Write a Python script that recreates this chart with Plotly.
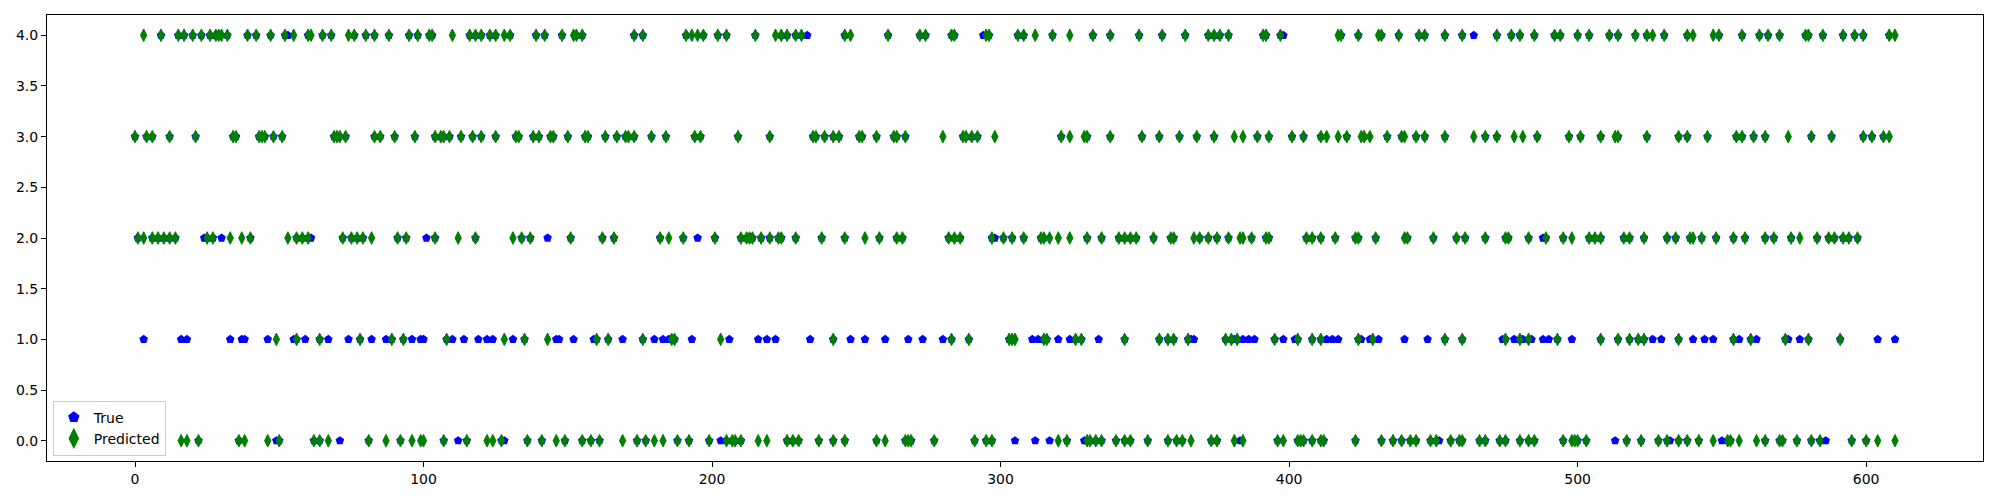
import plotly.graph_objects as go

# Predicted class per sample index (green thin diamonds), grouped by class
pred_idx_0 = [16, 18, 22, 36, 38, 46, 50, 62, 64, 67, 81, 87, 92, 96, 99, 100, 107, 115, 122, 124, 127, 136, 141,
              146, 149, 155, 158, 161, 169, 174, 177, 180, 183, 188, 192, 199, 205, 207, 208, 210, 216, 219, 226,
              228, 230, 237, 242, 246, 257, 260, 267, 268, 269, 277, 291, 295, 297, 320, 323, 330, 331, 333, 335,
              340, 343, 345, 351, 358, 361, 363, 366, 373, 375, 381, 384, 396, 398, 403, 404, 405, 408, 411, 412,
              423, 432, 436, 439, 442, 444, 449, 451, 456, 459, 460, 466, 468, 473, 475, 480, 483, 485, 495, 498,
              499, 500, 503, 517, 522, 528, 531, 535, 538, 542, 547, 552, 553, 556, 562, 565, 570, 571, 576, 581,
              584, 595, 600, 604, 610]
pred_idx_1 = [49, 56, 64, 78, 89, 93, 108, 128, 135, 143, 160, 164, 176, 186, 187, 203, 242, 283, 289, 303, 304,
              305, 315, 316, 326, 328, 343, 355, 358, 360, 365, 378, 380, 382, 395, 403, 408, 411, 424, 429, 454,
              460, 475, 480, 483, 493, 508, 514, 518, 521, 523, 535, 554, 560, 572, 580, 591]
pred_idx_2 = [1, 3, 6, 8, 10, 12, 14, 25, 27, 33, 37, 40, 53, 56, 58, 60, 72, 75, 77, 79, 82, 91, 94, 104, 112,
              118, 131, 134, 137, 151, 162, 166, 182, 185, 190, 201, 210, 212, 213, 214, 217, 220, 223, 224, 229,
              238, 246, 253, 258, 264, 266, 282, 284, 286, 297, 301, 304, 308, 314, 315, 317, 320, 324, 330, 335,
              341, 343, 345, 347, 353, 359, 360, 367, 369, 372, 375, 379, 383, 384, 387, 392, 393, 406, 408, 411,
              416, 423, 424, 430, 440, 441, 450, 458, 461, 468, 475, 476, 483, 489, 495, 498, 504, 506, 508, 516,
              518, 523, 531, 534, 539, 540, 543, 548, 554, 558, 565, 568, 574, 577, 583, 587, 589, 592, 594, 597]
pred_idx_3 = [0, 4, 6, 12, 21, 34, 35, 43, 44, 45, 48, 51, 69, 70, 71, 73, 83, 85, 90, 97, 104, 106, 107, 109,
              113, 117, 120, 125, 132, 133, 138, 140, 144, 145, 150, 156, 157, 163, 167, 170, 171, 173, 179, 184,
              194, 196, 209, 220, 235, 236, 239, 242, 244, 251, 252, 257, 263, 264, 267, 280, 287, 288, 290, 292,
              298, 321, 324, 329, 330, 338, 349, 355, 362, 368, 374, 381, 384, 389, 393, 401, 405, 411, 413, 417,
              420, 425, 426, 428, 434, 439, 440, 444, 447, 454, 464, 468, 472, 478, 481, 486, 497, 501, 508, 513,
              514, 524, 535, 538, 545, 555, 557, 561, 565, 573, 581, 588, 599, 602, 606, 608]
pred_idx_4 = [3, 9, 15, 17, 20, 23, 26, 28, 29, 30, 32, 39, 42, 47, 52, 55, 60, 61, 65, 68, 74, 76, 80, 83, 88,
              95, 98, 102, 103, 110, 116, 118, 120, 123, 125, 128, 130, 139, 142, 148, 152, 153, 155, 173, 176,
              191, 193, 195, 197, 202, 205, 215, 222, 224, 226, 229, 231, 246, 248, 261, 272, 274, 283, 284, 295,
              296, 306, 308, 312, 318, 324, 332, 338, 348, 356, 364, 372, 374, 376, 379, 391, 392, 397, 417, 418,
              424, 431, 432, 438, 445, 447, 454, 460, 472, 477, 480, 485, 492, 494, 500, 504, 511, 514, 520, 524,
              526, 530, 538, 540, 547, 549, 557, 563, 566, 570, 579, 580, 585, 592, 596, 599, 608, 610]

# True class where it differs from the prediction (visible blue pentagons)
true_diff_x = [3, 16, 18, 33, 37, 38, 46, 55, 59, 67, 74, 82, 87, 96, 99, 100, 110, 114, 119, 122, 124, 131,
               146, 147, 152, 159, 169, 180, 183, 185, 193, 206, 216, 219, 222, 234, 248, 253, 260, 268, 273,
               280, 311, 313, 320, 324, 328, 334, 366, 367, 381, 384, 386, 388, 398, 402, 413, 415, 417, 425,
               428, 431, 440, 448, 474, 478, 481, 484, 488, 490, 493, 498, 526, 529, 540, 544, 547, 556, 562,
               573, 577, 604, 610,
               24, 30, 61, 101, 143, 195, 298, 488,
               49, 71, 112, 128, 174, 203, 305, 312, 317, 323, 329, 383, 452, 513, 532, 550, 586,
               53, 233, 294, 398, 464, 608]
true_diff_y = [1] * 83 + [2] * 8 + [0] * 17 + [4] * 6

pred_lists = [pred_idx_0, pred_idx_1, pred_idx_2, pred_idx_3, pred_idx_4]

pred_x, pred_y = [], []
for cls, idxs in enumerate(pred_lists):
    pred_x += idxs
    pred_y += [cls] * len(idxs)

diff_set = set(true_diff_x)
true_x, true_y = list(true_diff_x), list(true_diff_y)
for x, y in zip(pred_x, pred_y):
    if x not in diff_set:
        true_x.append(x)
        true_y.append(y)

fig = go.Figure()
fig.add_trace(go.Scatter(
    x=true_x, y=true_y, mode="markers", name="True",
    marker=dict(symbol="pentagon", color="blue", size=9, line=dict(width=0)),
))
fig.add_trace(go.Scatter(
    x=pred_x, y=pred_y, mode="markers", name="Predicted",
    marker=dict(symbol="diamond-tall", color="green", size=9, line=dict(width=1, color="green")),
))

font = dict(family="DejaVu Sans", size=14, color="black")
fig.update_layout(
    width=2000, height=500,
    margin=dict(l=47, r=17, t=15, b=39, autoexpand=False),
    paper_bgcolor="white", plot_bgcolor="white",
    font=font,
    showlegend=True,
    hovermode=False,
    legend=dict(x=0.003, y=0.012, xanchor="left", yanchor="bottom",
                bgcolor="rgba(255,255,255,0.8)", bordercolor="#cccccc", borderwidth=1,
                font=dict(family="DejaVu Sans", size=14, color="black"),
                itemsizing="constant", tracegroupgap=2),
)
fig.update_xaxes(range=[-30.5, 640.5], showgrid=False, zeroline=False, automargin=False,
                 showline=True, linecolor="black", linewidth=1, mirror=True,
                 ticks="outside", ticklen=5, tickcolor="black",
                 tickvals=[0, 100, 200, 300, 400, 500, 600])
fig.update_yaxes(range=[-0.2, 4.2], showgrid=False, zeroline=False, automargin=False,
                 showline=True, linecolor="black", linewidth=1, mirror=True,
                 ticks="outside", ticklen=5, tickcolor="black",
                 tickvals=[0, 0.5, 1, 1.5, 2, 2.5, 3, 3.5, 4],
                 ticktext=["0.0", "0.5", "1.0", "1.5", "2.0", "2.5", "3.0", "3.5", "4.0"])

fig.write_html("out.html", config={"displayModeBar": False},
               post_script="document.body.style.margin='0';document.body.style.overflow='hidden';")
